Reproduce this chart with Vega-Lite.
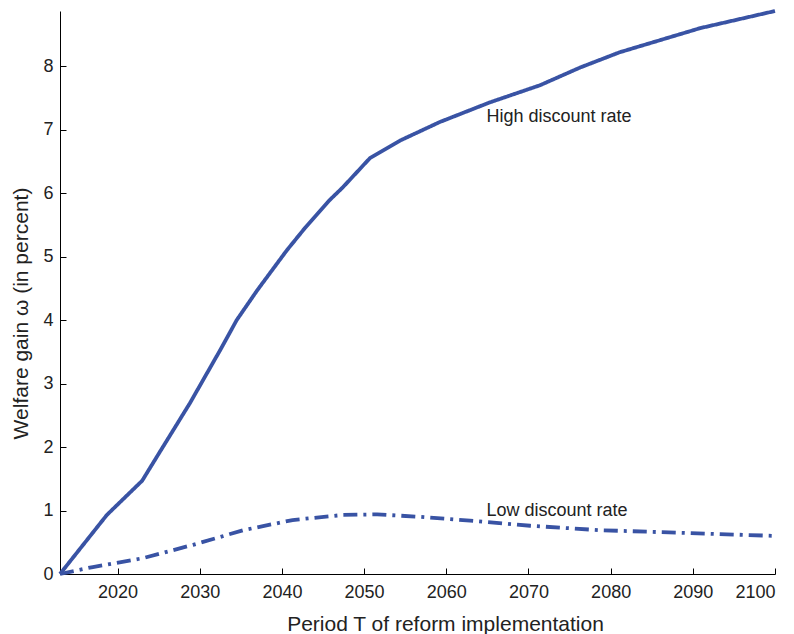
{
  "$schema": "https://vega.github.io/schema/vega-lite/v6.json",
  "width": 715,
  "height": 563,
  "autosize": "none",
  "padding": {"left": 60, "top": 11, "right": 19, "bottom": 60},
  "config": {
    "view": {"stroke": null},
    "font": "Liberation Sans",
    "axis": {"grid": false, "domainColor": "#000", "tickColor": "#000", "labelColor": "#222", "titleColor": "#222", "labelFont": "Liberation Sans", "titleFont": "Liberation Sans", "titleFontWeight": "normal"}
  },
  "datasets": {
    "curves": [
      {"year": 2013, "gain": 0, "series": "High"},
      {"year": 2018.7, "gain": 0.93, "series": "High"},
      {"year": 2023.0, "gain": 1.47, "series": "High"},
      {"year": 2024.8, "gain": 1.85, "series": "High"},
      {"year": 2028.8, "gain": 2.69, "series": "High"},
      {"year": 2032.5, "gain": 3.53, "series": "High"},
      {"year": 2034.5, "gain": 4.0, "series": "High"},
      {"year": 2037.0, "gain": 4.47, "series": "High"},
      {"year": 2040.6, "gain": 5.1, "series": "High"},
      {"year": 2042.8, "gain": 5.45, "series": "High"},
      {"year": 2045.8, "gain": 5.89, "series": "High"},
      {"year": 2047.4, "gain": 6.09, "series": "High"},
      {"year": 2050.7, "gain": 6.55, "series": "High"},
      {"year": 2054.4, "gain": 6.83, "series": "High"},
      {"year": 2059.2, "gain": 7.12, "series": "High"},
      {"year": 2065.3, "gain": 7.43, "series": "High"},
      {"year": 2071.4, "gain": 7.7, "series": "High"},
      {"year": 2076.3, "gain": 7.98, "series": "High"},
      {"year": 2081.1, "gain": 8.22, "series": "High"},
      {"year": 2086.0, "gain": 8.41, "series": "High"},
      {"year": 2090.9, "gain": 8.6, "series": "High"},
      {"year": 2100, "gain": 8.87, "series": "High"},
      {"year": 2013, "gain": 0, "series": "Low"},
      {"year": 2017.0, "gain": 0.11, "series": "Low"},
      {"year": 2023.1, "gain": 0.25, "series": "Low"},
      {"year": 2029.2, "gain": 0.46, "series": "Low"},
      {"year": 2035.3, "gain": 0.69, "series": "Low"},
      {"year": 2041.3, "gain": 0.85, "series": "Low"},
      {"year": 2047.4, "gain": 0.93, "series": "Low"},
      {"year": 2051.6, "gain": 0.94, "series": "Low"},
      {"year": 2056.8, "gain": 0.9, "series": "Low"},
      {"year": 2062.9, "gain": 0.84, "series": "Low"},
      {"year": 2070.2, "gain": 0.76, "series": "Low"},
      {"year": 2078.7, "gain": 0.69, "series": "Low"},
      {"year": 2088.4, "gain": 0.65, "series": "Low"},
      {"year": 2100, "gain": 0.6, "series": "Low"}
    ],
    "labels": [
      {"year": 2064.9, "gain": 7.2, "text": "High discount rate"},
      {"year": 2064.9, "gain": 1.0, "text": "Low discount rate"}
    ]
  },
  "encoding": {
    "x": {"field": "year", "type": "quantitative", "scale": {"domain": [2013, 2100], "nice": false, "zero": false},
      "axis": {"values": [2020, 2030, 2040, 2050, 2060, 2070, 2080, 2090, 2100], "format": "d", "tickSize": -6, "labelPadding": 15, "labelFontSize": 18, "title": "Period T of reform implementation", "titleFontSize": 21, "titleX": 385, "titleY": 56, "titleBaseline": "alphabetic"}},
    "y": {"field": "gain", "type": "quantitative", "scale": {"domain": [0, 8.87], "nice": false},
      "axis": {"values": [0, 1, 2, 3, 4, 5, 6, 7, 8], "tickSize": -6, "labelPadding": 13, "labelFontSize": 18, "title": "Welfare gain ω (in percent)", "titleFontSize": 21, "titleX": -33, "titleY": 302, "titleBaseline": "alphabetic"}}
  },
  "layer": [
    {
      "data": {"name": "curves"},
      "mark": {"type": "line", "strokeWidth": 3.8, "color": "#3953a4"},
      "encoding": {
        "detail": {"field": "series"},
        "strokeDash": {"field": "series", "type": "nominal", "scale": {"domain": ["High", "Low"], "range": [[1, 0], [14, 6, 3, 6]]}, "legend": null}
      }
    },
    {
      "data": {"name": "labels"},
      "mark": {"type": "text", "align": "left", "baseline": "middle", "fontSize": 18, "color": "#222", "font": "Liberation Sans"},
      "encoding": {"text": {"field": "text"}}
    }
  ]
}
